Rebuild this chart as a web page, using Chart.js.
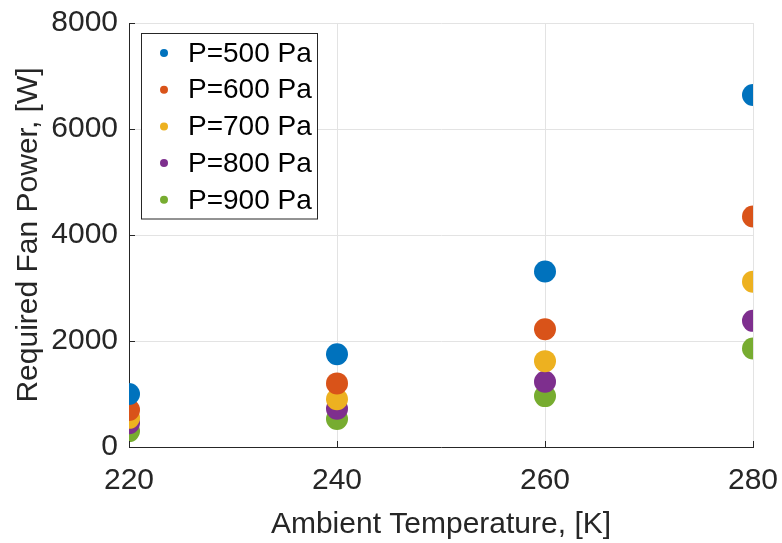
<!DOCTYPE html>
<html>
<head>
<meta charset="utf-8">
<script src="https://cdn.jsdelivr.net/npm/chart.js@4.4.0/dist/chart.umd.min.js"></script>
<style>
  html, body { margin: 0; padding: 0; background: #fff; }
  #wrap { width: 782px; height: 543px; }
</style>
</head>
<body>
<div id="wrap"><canvas id="fan" width="782" height="543"></canvas></div>
<script>
const temps = [220, 240, 260, 280];
const p500 = [1000, 1750, 3310, 6640];
const p600 = [700, 1200, 2220, 4350];
const p700 = [550, 900, 1620, 3120];
const p800 = [450, 720, 1230, 2380];
const p900 = [300, 530, 960, 1860];
const seriesNames = ['P=500 Pa', 'P=600 Pa', 'P=700 Pa', 'P=800 Pa', 'P=900 Pa'];
const colors = ['#0072BD', '#D95319', '#EDB120', '#7E2F8E', '#77AC30'];
const xTicks = [220, 240, 260, 280];
const yTicks = [0, 2000, 4000, 6000, 8000];

const txt = '#262626';
const fontFam = '"Liberation Sans", Arial, sans-serif';

const datasets = [p500, p600, p700, p800, p900].map((vals, i) => ({
    label: seriesNames[i],
    data: temps.map((t, j) => ({ x: t, y: vals[j] })),
    backgroundColor: colors[i],
    borderColor: colors[i],
    pointRadius: 11,
    pointHoverRadius: 11,
    borderWidth: 0
}));

// legend box drawn inside the plot, like the MATLAB one
const boxLegend = {
    id: 'boxLegend',
    afterDraw(chart) {
        const ctx = chart.ctx;
        const x0 = 141, y0 = 33, w = 176, rowH = 36.7;
        const h = rowH * chart.data.datasets.length + 2;
        ctx.save();
        ctx.fillStyle = '#fff';
        ctx.fillRect(x0, y0, w, h);
        ctx.strokeStyle = '#262626';
        ctx.lineWidth = 1;
        ctx.strokeRect(x0 + 0.5, y0 + 0.5, w, h);
        ctx.font = '28px ' + fontFam;
        ctx.textBaseline = 'middle';
        chart.data.datasets.forEach((ds, i) => {
            const cy = y0 + 20 + i * rowH;
            ctx.fillStyle = ds.backgroundColor;
            ctx.beginPath();
            ctx.arc(x0 + 23, cy, 4, 0, Math.PI * 2);
            ctx.fill();
            ctx.fillStyle = '#000';
            ctx.fillText(ds.label, x0 + 47, cy + 1);
        });
        ctx.restore();
    }
};

// small inward tick marks on the left and bottom axes
const innerTicks = {
    id: 'innerTicks',
    afterDraw(chart) {
        const ctx = chart.ctx, a = chart.chartArea;
        const xs = chart.scales.x, ys = chart.scales.y;
        ctx.save();
        ctx.strokeStyle = '#262626';
        ctx.lineWidth = 1;
        ctx.beginPath();
        xTicks.forEach(v => {
            const px = Math.round(xs.getPixelForValue(v)) + 0.5;
            ctx.moveTo(px, a.bottom);
            ctx.lineTo(px, a.bottom - 6);
        });
        yTicks.forEach(v => {
            const py = Math.round(ys.getPixelForValue(v)) + 0.5;
            ctx.moveTo(a.left, py);
            ctx.lineTo(a.left + 6, py);
        });
        ctx.stroke();
        ctx.restore();
    }
};

new Chart(document.getElementById('fan'), {
    type: 'scatter',
    data: { datasets: datasets },
    options: {
        responsive: false,
        animation: false,
        layout: { padding: { top: 23, right: 29, left: 0, bottom: 0 } },
        plugins: {
            legend: { display: false },
            tooltip: { enabled: false }
        },
        scales: {
            x: {
                type: 'linear',
                min: 220,
                max: 280,
                afterBuildTicks: (s) => { s.ticks = xTicks.map(v => ({ value: v })); },
                afterFit: (s) => { s.height = 96; s.paddingLeft = 0; s.paddingRight = 0; },
                grid: { color: '#e3e3e3', drawTicks: false },
                border: { color: '#262626', width: 1 },
                ticks: {
                    color: txt,
                    font: { family: fontFam, size: 30 },
                    padding: 16,
                    callback: (v) => String(v)
                },
                title: {
                    display: true,
                    text: 'Ambient Temperature, [K]',
                    color: txt,
                    font: { family: fontFam, size: 30 },
                    padding: { top: 0, bottom: 0 }
                }
            },
            y: {
                min: 0,
                max: 8000,
                afterBuildTicks: (s) => { s.ticks = yTicks.map(v => ({ value: v })); },
                afterFit: (s) => { s.width = 129; s.paddingTop = 0; s.paddingBottom = 0; },
                grid: { color: '#e3e3e3', drawTicks: false },
                border: { color: '#262626', width: 1 },
                ticks: {
                    color: txt,
                    font: { family: fontFam, size: 30 },
                    padding: 11,
                    callback: (v) => String(v)
                },
                title: {
                    display: true,
                    text: 'Required Fan Power, [W]',
                    color: txt,
                    font: { family: fontFam, size: 30 },
                    padding: { top: 11, bottom: 0 }
                }
            }
        }
    },
    plugins: [innerTicks, boxLegend]
});
</script>
</body>
</html>
